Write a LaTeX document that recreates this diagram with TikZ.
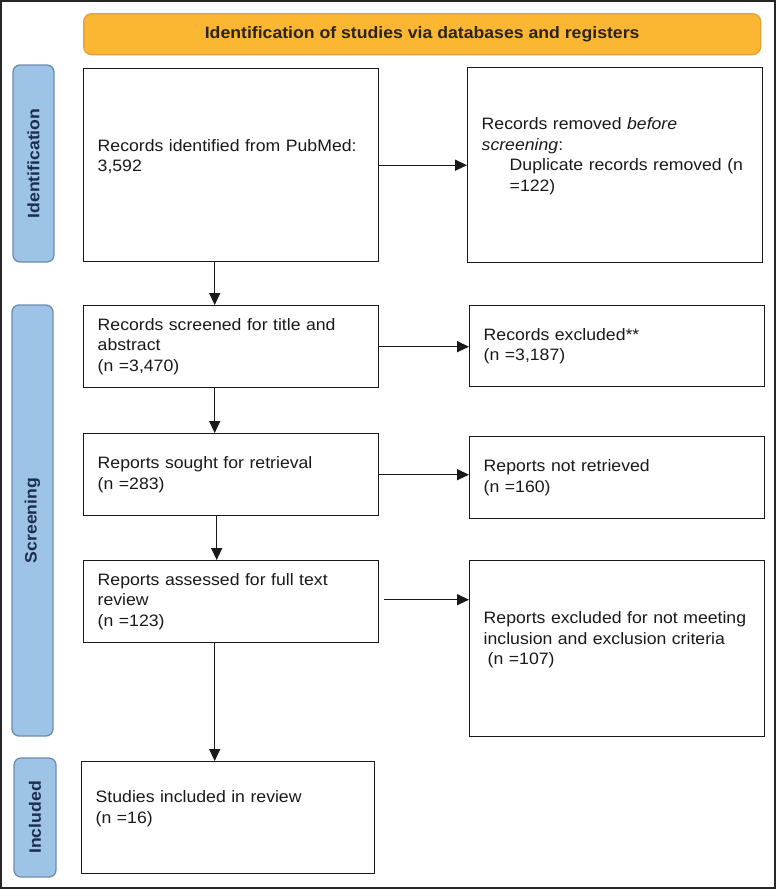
\documentclass[tikz,border=0pt]{standalone}
\usepackage{fontspec}
\setmainfont{Liberation Sans}[FakeStretch=1.07]
\usetikzlibrary{arrows.meta}
\definecolor{hdrfill}{HTML}{FBB632}
\definecolor{hdrline}{HTML}{E2A23A}
\definecolor{hdrtext}{HTML}{2B2412}
\definecolor{phfill}{HTML}{9DC3E6}
\definecolor{phline}{HTML}{6E8CB0}
\definecolor{phtext}{HTML}{1C2E50}

\begin{document}
\begin{tikzpicture}[x=1pt,y=-1pt,
    flow/.style={draw=black!90,line width=1.4pt,anchor=north west,align=left,
      text width=267pt,inner xsep=14pt,minimum width=295pt,text=black!90,
      font=\fontsize{16.5}{20.5}\selectfont},
    lift/.style={text depth=#1},
    phase/.style={draw=phline,fill=phfill,line width=1.3pt,rounded corners=7pt,
      rotate=90,text=phtext,font=\fontsize{16.5}{18}\selectfont\bfseries},
    hdr/.style={draw=hdrline,fill=hdrfill,line width=1.3pt,rounded corners=8pt,
      anchor=north west,text=hdrtext,font=\fontsize{16.5}{18}\selectfont\bfseries},
    arr/.style={-{Triangle[length=12pt,width=11pt]},line width=1.4pt,black!90}]
    \useasboundingbox (0,0) rectangle (776,889);
    \draw[line width=2pt,black!85] (1,1) rectangle (774.5,887.5);
    \node[hdr,minimum width=677pt,minimum height=41pt] (head) at (83,13)
      {Identification of studies via databases and registers};
    \node[phase,minimum width=197pt,minimum height=41pt] (phid) at (33.5,163.5) {Identification};
    \node[phase,minimum width=431pt,minimum height=41pt] (phscr) at (32.5,520.5) {Screening};
    \node[phase,minimum width=119pt,minimum height=42pt] (phinc) at (35,817.5) {Included};
    \node[flow,lift=40pt,minimum height=193pt] (ident) at (83,68)
      {Records identified from PubMed:\\3,592};
    \node[flow,lift=83pt,minimum height=195pt] (dupl) at (467,67)
      {Records removed \textit{before}\\\textit{screening}:\\\hspace*{28pt}Duplicate records removed (n\\\hspace*{28pt}=122)};
    \node[flow,minimum height=82pt] (screened) at (83,305)
      {Records screened for title and\\abstract\\(n =3,470)};
    \node[flow,minimum height=81pt] (excl) at (469,305)
      {Records excluded**\\(n =3,187)};
    \node[flow,minimum height=82pt] (sought) at (83,433)
      {Reports sought for retrieval\\(n =283)};
    \node[flow,minimum height=82pt] (notret) at (469,436)
      {Reports not retrieved\\(n =160)};
    \node[flow,minimum height=82pt] (assessed) at (83,560)
      {Reports assessed for full text\\review\\(n =123)};
    \node[flow,lift=62pt,minimum height=176pt] (exclfull) at (469,560)
      {Reports excluded for not meeting\\inclusion and exclusion criteria\\\hspace*{4pt}(n =107)};
    \node[flow,lift=42pt,minimum height=112pt,minimum width=293pt,text width=265pt] (incl) at (81,761)
      {Studies included in review\\(n =16)};
    \draw[arr] (ident.east) -- (ident.east -| dupl.west);
    \draw[arr] ([xshift=-16.5pt]ident.south) -- ([xshift=-16.5pt]screened.north);
    \draw[arr] (screened.east) -- (screened.east -| excl.west);
    \draw[arr] ([xshift=-16.5pt]screened.south) -- ([xshift=-16.5pt]sought.north);
    \draw[arr] (sought.east) -- (sought.east -| notret.west);
    \draw[arr] ([xshift=-14.5pt]sought.south) -- ([xshift=-14.5pt]assessed.north);
    \draw[arr] ([xshift=5pt,yshift=2pt]assessed.east) -- ([yshift=2pt]assessed.east -| exclfull.west);
    \draw[arr] ([xshift=-16.5pt]assessed.south) -- ([xshift=-16.5pt]assessed.south |- incl.north);
\end{tikzpicture}
\end{document}
